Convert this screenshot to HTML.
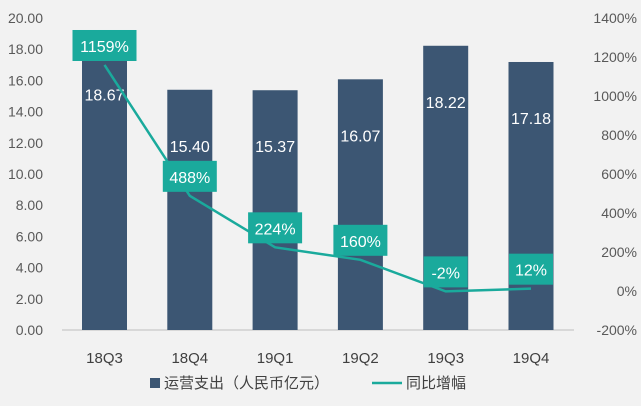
<!DOCTYPE html>
<html><head><meta charset="utf-8"><style>
body{margin:0;background:#f2f2f2;}
svg{display:block;font-family:"Liberation Sans","Noto Sans CJK SC",sans-serif;}
</style></head><body>
<svg id="chart" width="641" height="406">
<rect width="641" height="406" fill="#f2f2f2"/>
<g id="g"></g>
</svg>
<script>
const categories=["18Q3","18Q4","19Q1","19Q2","19Q3","19Q4"];
const opex=[18.67,15.40,15.37,16.07,18.22,17.18];
const growth=[1159,488,224,160,-2,12];
const growthLabels=["1159%","488%","224%","160%","-2%","12%"];
const leftTicks=[0,2,4,6,8,10,12,14,16,18,20];
const rightTicks=[-200,0,200,400,600,800,1000,1200,1400];
const NS="http://www.w3.org/2000/svg";
const g=document.getElementById('g');
const y0=330,y1=18;
const yL=v=>y0-(v/20)*(y0-y1);
const yR=v=>y0-((v+200)/1600)*(y0-y1);
const xC=i=>104.5+i*85.3;
function mk(t,a,p){const e=document.createElementNS(NS,t);for(const k in a)e.setAttribute(k,a[k]);(p||g).appendChild(e);return e;}
leftTicks.forEach(v=>{const t=mk('text',{x:43,y:yL(v)+5,'text-anchor':'end','font-size':14,fill:'#595959'});t.textContent=v.toFixed(2);

});
rightTicks.forEach(v=>{const t=mk('text',{x:637,y:yR(v)+5,'text-anchor':'end','font-size':14,fill:'#595959'});t.textContent=v+'%';

});
const ax=mk('line',{x1:62,x2:574,y1:y0,y2:y0,stroke:'#bfbfbf'});


categories.forEach((c,i)=>{
const b=mk('rect',{x:xC(i)-22.5,y:yL(opex[i]),width:45,height:y0-yL(opex[i]),fill:'#3c5673'});


const ly=Math.min(yL(opex[i])+62,160);
const l=mk('text',{x:xC(i),y:ly,'text-anchor':'middle','font-size':16,fill:'#fff'});l.textContent=opex[i].toFixed(2);


const t=mk('text',{x:xC(i),y:363,'text-anchor':'middle','font-size':15,fill:'#404040'});t.textContent=c;


});
const pl=mk('polyline',{points:growth.map((v,i)=>xC(i)+','+yR(v)).join(' '),fill:'none',stroke:'#1aaa9c','stroke-width':2.5});


growth.forEach((v,i)=>{
const w=growthLabels[i].length*10+14;const cy=yR(v)-19;
const r=mk('rect',{x:xC(i)-w/2,y:cy-16,width:w,height:31,fill:'#1aaa9c'});


const t=mk('text',{x:xC(i),y:cy+6,'text-anchor':'middle','font-size':16,fill:'#fff'});t.textContent=growthLabels[i];


});
const s1=mk('rect',{x:150,y:378,width:10,height:10,fill:'#3c5673'});


const t1=mk('text',{x:164,y:388,'font-size':15,fill:'#404040'});t1.textContent='运营支出（人民币亿元）';


const s2=mk('line',{x1:372,x2:402,y1:383,y2:383,stroke:'#1aaa9c','stroke-width':2.5});


const t2=mk('text',{x:406,y:388,'font-size':15,fill:'#404040'});t2.textContent='同比增幅';


</script>
</body></html>
